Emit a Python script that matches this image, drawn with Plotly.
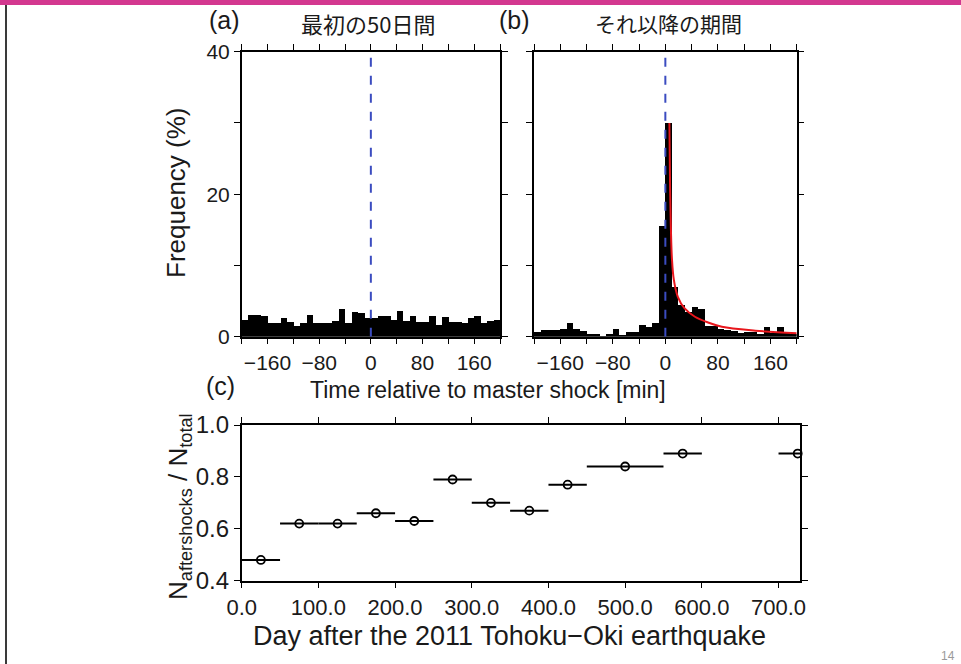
import plotly.graph_objects as go

# ---------------- data ----------------
bin_centers = list(range(-195, 200, 10))          # 10-min bins, -200..200 min
freq_first50 = [2.35, 3.15, 3.15, 3.0, 1.9, 2.0, 2.7, 2.1, 1.55, 2.0,
                3.15, 2.0, 2.0, 2.0, 2.2, 3.9, 1.9, 3.5, 3.4, 2.6,
                2.6, 2.9, 2.9, 2.4, 3.6, 2.3, 3.0, 2.1, 2.1, 3.0,
                1.7, 2.8, 2.1, 2.1, 1.9, 2.6, 2.9, 2.0, 2.2, 2.35]
freq_later = [0.7, 0.94, 0.94, 0.94, 1.17, 2.0, 1.17, 0.85, 0.47, 0.47,
              0.1, 0.47, 1.17, 0.2, 0.7, 0.7, 1.64, 1.4, 1.9, 15.6,
              30.0, 7.0, 4.5, 3.5, 4.2, 4.0, 1.55, 1.55, 1.17, 1.03,
              0.85, 0.56, 0.7, 0.7, 0.47, 1.4, 0.56, 1.4, 0.56, 0.47]
fit_t = [6.2, 7.2, 8.5, 10, 12.9, 19, 29, 45, 65, 86, 137, 200]
fit_y = [30, 21, 15, 11, 8.0, 5.6, 4.0, 2.8, 2.0, 1.4, 0.85, 0.47]

day_center = [25, 75, 125, 175, 225, 275, 325, 375, 425, 500, 575, 725]
day_halfwidth = [25, 25, 25, 25, 25, 25, 25, 25, 25, 50, 25, 25]
ratio = [0.48, 0.62, 0.62, 0.66, 0.63, 0.79, 0.70, 0.67, 0.77, 0.84, 0.89, 0.89]

hist_tickvals = [-200, -160, -120, -80, -40, 0, 40, 80, 120, 160, 200]
hist_ticktext = ["", "\u2212160", "", "\u221280", "", "0", "", "80", "", "160", ""]
freq_tickvals = [0, 10, 20, 30, 40]
freq_ticktext = ["0", "", "20", "", "40"]
day_tickvals = [0, 100, 200, 300, 400, 500, 600, 700]
day_ticktext = ["0.0", "100.0", "200.0", "300.0", "400.0", "500.0", "600.0", "700.0"]
ratio_tickvals = [0.4, 0.6, 0.8, 1.0]
ratio_ticktext = ["0.4", "0.6", "0.8", "1.0"]

W, H = 961, 664
FONT = "Liberation Sans, Arial, Helvetica, sans-serif"
CJK = "Noto Sans CJK JP, Noto Sans CJK SC, sans-serif"
INK = "#1a1a1a"


def px(x):
    return x / W


def py(y):
    return 1 - y / H


fig = go.Figure()

# panel (a)
fig.add_trace(go.Bar(x=bin_centers, y=freq_first50, width=10, marker=dict(color="black", line=dict(width=0)),
                     xaxis="x", yaxis="y", showlegend=False))
fig.add_trace(go.Scatter(x=[0, 0], y=[0, 40], mode="lines", line=dict(color="#3b4cc0", width=2, dash="dash"),
                         xaxis="x", yaxis="y", showlegend=False))
# panel (b)
fig.add_trace(go.Bar(x=bin_centers, y=freq_later, width=10, marker=dict(color="black", line=dict(width=0)),
                     xaxis="x2", yaxis="y2", showlegend=False))
fig.add_trace(go.Scatter(x=[0, 0], y=[0, 40], mode="lines", line=dict(color="#3b4cc0", width=2, dash="dash"),
                         xaxis="x2", yaxis="y2", showlegend=False))
fig.add_trace(go.Scatter(x=fit_t, y=fit_y, mode="lines", line=dict(color="#e8161c", width=2, shape="spline"),
                         xaxis="x2", yaxis="y2", showlegend=False))
# panel (c)
fig.add_trace(go.Scatter(x=day_center, y=ratio, mode="markers",
                         marker=dict(symbol="circle-open", size=8, color="black", line=dict(width=1.8)),
                         error_x=dict(type="data", array=day_halfwidth, symmetric=True, width=0,
                                      thickness=2, color="black"),
                         cliponaxis=False, xaxis="x3", yaxis="y3", showlegend=False))

axis_common = dict(showline=True, linecolor="black", linewidth=1.5, mirror="ticks", ticks="outside",
                   ticklen=6, tickwidth=1.2, tickcolor="black", showgrid=False, zeroline=False,
                   automargin=False)

fig.update_layout(
    template="none",
    width=W, height=H, autosize=False,
    margin=dict(l=0, r=0, t=0, b=0, pad=0, autoexpand=False),
    paper_bgcolor="white", plot_bgcolor="white",
    bargap=0,
    font=dict(family=FONT, color=INK),
    xaxis=dict(domain=[px(241.7), px(500)], range=[-200, 200], tickvals=hist_tickvals, ticktext=hist_ticktext,
               tickfont=dict(size=21), anchor="y", **axis_common),
    yaxis=dict(domain=[py(336.7), py(51.7)], range=[0, 40], tickvals=freq_tickvals, ticktext=freq_ticktext,
               tickfont=dict(size=21), anchor="x", **axis_common),
    xaxis2=dict(domain=[px(534), px(796.7)], range=[-200, 200], tickvals=hist_tickvals, ticktext=hist_ticktext,
                tickfont=dict(size=21), anchor="y2", **axis_common),
    yaxis2=dict(domain=[py(336.7), py(51.7)], range=[0, 40], tickvals=freq_tickvals, showticklabels=False,
                anchor="x2", **axis_common),
    xaxis3=dict(domain=[px(241.7), px(800)], range=[0, 728], tickvals=day_tickvals, ticktext=day_ticktext,
                tickfont=dict(size=22), anchor="y3", **axis_common),
    yaxis3=dict(domain=[py(580.7), py(425)], range=[0.4, 1.0], tickvals=ratio_tickvals, ticktext=ratio_ticktext,
                tickfont=dict(size=24), anchor="x3", **axis_common),
)

# decorations: top magenta band, left dark rule
fig.add_shape(type="rect", xref="paper", yref="paper", x0=0, x1=1, y0=py(5), y1=1,
              fillcolor="#d3388f", line=dict(width=0), layer="above")
fig.add_shape(type="line", xref="paper", yref="paper", x0=px(6), x1=px(6), y0=0, y1=py(5),
              line=dict(color="#3a3a3a", width=2), layer="above")

annotations = [
    dict(text="(a)", x=px(224), y=py(20), size=25, font=FONT),
    dict(text="最初の50日間", x=px(368), y=py(23), size=22, font=CJK),
    dict(text="(b)", x=px(514), y=py(20), size=25, font=FONT),
    dict(text="それ以降の期間", x=px(668), y=py(23), size=21, font=CJK),
    dict(text="Time relative to master shock [min]", x=px(488), y=py(390), size=23, font=FONT),
    dict(text="(c)", x=px(220), y=py(386), size=25, font=FONT),
    dict(text="Day after the 2011 Tohoku\u2212Oki earthquake", x=px(510), y=py(636), size=27, font=FONT),
]
for a in annotations:
    fig.add_annotation(text=a["text"], x=a["x"], y=a["y"], xref="paper", yref="paper", showarrow=False,
                       xanchor="center", yanchor="middle", font=dict(size=a["size"], family=a["font"], color=INK))

fig.add_annotation(text="Frequency (%)", x=px(176), y=py(193), xref="paper", yref="paper", showarrow=False,
                   textangle=-90, xanchor="center", yanchor="middle", font=dict(size=26, family=FONT, color=INK))
fig.add_annotation(text="N<sub>aftershocks</sub> / N<sub>total</sub>", x=px(180), y=py(507), xref="paper",
                   yref="paper", showarrow=False, textangle=-90, xanchor="center", yanchor="middle",
                   font=dict(size=26, family=FONT, color=INK))
fig.add_annotation(text="14", x=px(948), y=py(647), xref="paper", yref="paper", showarrow=False,
                   xanchor="center", yanchor="top", font=dict(size=12, family=FONT, color="#9a9a9a"))

fig.write_html("out.html",
               post_script="document.body.style.margin='0';document.body.style.overflow='hidden';")
